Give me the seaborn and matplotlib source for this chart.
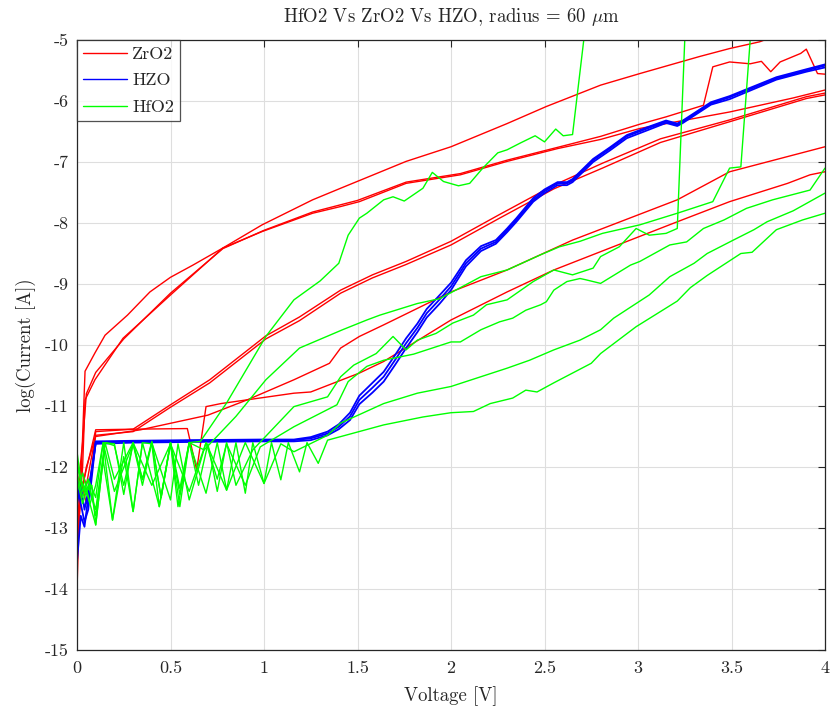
import numpy as np
import pandas as pd
import matplotlib
matplotlib.use("Agg")
import matplotlib.pyplot as plt
import seaborn as sns

# ---------------- data ----------------
# ZrO2 sweeps
zr_a_v = [0, 0.01, 0.03, 0.043, 0.096, 0.15, 0.27, 0.39, 0.50, 0.62, 0.78, 0.99, 1.26, 1.41, 1.76, 2.0, 2.3, 2.51, 2.80, 3.01, 3.33, 3.49, 3.65, 3.72, 4.0]
zr_a_l = [-14.0, -13.0, -11.5, -10.43, -10.13, -9.84, -9.51, -9.13, -8.89, -8.69, -8.41, -8.03, -7.62, -7.43, -6.99, -6.75, -6.37, -6.09, -5.74, -5.55, -5.27, -5.14, -5.03, -4.95, -4.7]
zr_b_v = [0, 0.01, 0.03, 0.043, 0.096, 0.246, 0.50, 0.78, 0.99, 1.26, 1.41, 1.51, 1.76, 2.05, 2.30, 2.57, 2.80, 3.01, 3.49, 3.83, 4.0]
zr_b_l = [-13.3, -12.8, -12.0, -10.9, -10.57, -9.89, -9.18, -8.41, -8.14, -7.84, -7.73, -7.65, -7.35, -7.21, -6.99, -6.78, -6.63, -6.45, -6.18, -5.95, -5.82]
zr_c_v = [0, 0.01, 0.03, 0.05, 0.1, 0.25, 0.5, 0.78, 1.0, 1.26, 1.5, 1.76, 2.05, 2.30, 2.57, 2.80, 3.01, 3.15, 3.35, 3.40, 3.49, 3.60, 3.66, 3.71, 3.76, 3.87, 3.90, 3.96, 4.0]
zr_c_l = [-12.9, -12.2, -11.6, -10.8, -10.45, -9.9, -9.15, -8.42, -8.12, -7.82, -7.63, -7.33, -7.19, -6.97, -6.76, -6.58, -6.38, -6.26, -6.07, -5.44, -5.36, -5.39, -5.35, -5.52, -5.36, -5.22, -5.15, -5.55, -5.56]
zr_d_v = [0, 0.02, 0.05, 0.08, 0.1, 0.3, 0.5, 0.71, 1.01, 1.19, 1.41, 1.58, 1.76, 2.0, 2.26, 2.55, 2.81, 3.12, 3.49, 3.90, 4.0]
zr_d_l = [-13.0, -12.2, -12.6, -12.0, -11.42, -11.38, -10.98, -10.57, -9.85, -9.54, -9.10, -8.85, -8.63, -8.30, -7.86, -7.38, -7.02, -6.62, -6.31, -5.93, -5.87]
zr_e_v = [0, 0.02, 0.05, 0.08, 0.1, 0.3, 0.5, 0.71, 1.01, 1.19, 1.41, 1.58, 1.76, 2.0, 2.26, 2.55, 2.81, 3.12, 3.49, 3.90, 4.0]
zr_e_l = [-12.6, -12.0, -12.3, -11.8, -11.48, -11.42, -11.02, -10.62, -9.9, -9.6, -9.15, -8.9, -8.68, -8.36, -7.92, -7.44, -7.10, -6.68, -6.34, -5.96, -5.90]
zr_f_v = [0, 0.02, 0.05, 0.1, 0.34, 0.7, 0.91, 1.16, 1.35, 1.41, 1.51, 1.64, 2.0, 2.30, 2.65, 3.21, 3.49, 4.0]
zr_f_l = [-13.3, -12.5, -12.0, -11.5, -11.39, -11.15, -10.9, -10.57, -10.3, -10.05, -9.86, -9.67, -9.13, -8.77, -8.28, -7.62, -7.16, -6.75]
zr_g_v = [0, 0.03, 0.1, 0.3, 0.59, 0.64, 0.69, 0.77, 1.16, 1.25, 1.51, 1.64, 2.0, 2.30, 2.55, 2.80, 3.21, 3.49, 3.80, 3.92, 4.0]
zr_g_l = [-13.0, -12.3, -11.39, -11.38, -11.37, -12.05, -11.01, -10.96, -10.79, -10.77, -10.46, -10.27, -9.59, -9.13, -8.77, -8.47, -7.98, -7.65, -7.35, -7.21, -7.16]

# HZO sweeps
hzo_v = [0, 0.02, 0.04, 0.06, 0.1, 0.3, 0.6, 0.98, 1.16, 1.25, 1.34, 1.40, 1.46, 1.51, 1.58, 1.64, 1.70, 1.76, 1.82, 1.87, 1.94, 2.0, 2.08, 2.16, 2.24, 2.30, 2.35, 2.44, 2.50, 2.57, 2.62, 2.65, 2.76, 2.85, 2.94, 3.05, 3.15, 3.21, 3.24, 3.39, 3.49, 3.74, 3.90, 4.0]
hzo_1_l = [-13.55, -12.8, -12.98, -12.5, -11.6, -11.58, -11.57, -11.56, -11.56, -11.53, -11.45, -11.34, -11.17, -10.90, -10.70, -10.52, -10.25, -9.97, -9.72, -9.48, -9.25, -9.04, -8.66, -8.42, -8.31, -8.12, -7.95, -7.62, -7.48, -7.35, -7.35, -7.30, -6.97, -6.78, -6.58, -6.45, -6.34, -6.39, -6.34, -6.04, -5.94, -5.63, -5.50, -5.42]
hzo_2_l = [-12.2, -12.6, -12.9, -12.7, -11.58, -11.57, -11.56, -11.55, -11.55, -11.51, -11.42, -11.30, -11.11, -10.83, -10.62, -10.44, -10.17, -9.89, -9.65, -9.41, -9.18, -8.98, -8.61, -8.38, -8.28, -8.09, -7.92, -7.59, -7.45, -7.33, -7.33, -7.28, -6.95, -6.76, -6.56, -6.43, -6.32, -6.37, -6.32, -6.02, -5.92, -5.61, -5.48, -5.40]
hzo_3_l = [-12.6, -12.3, -12.7, -12.4, -11.62, -11.60, -11.59, -11.58, -11.58, -11.56, -11.48, -11.38, -11.23, -10.97, -10.78, -10.60, -10.33, -10.05, -9.79, -9.55, -9.32, -9.10, -8.71, -8.46, -8.34, -8.15, -7.98, -7.65, -7.51, -7.38, -7.38, -7.33, -7.00, -6.81, -6.61, -6.48, -6.36, -6.41, -6.36, -6.06, -5.97, -5.65, -5.52, -5.45]

# HfO2 sweeps
hf_a_v = [0, 0.03, 0.06, 0.1, 0.14, 0.19, 0.25, 0.3, 0.35, 0.4, 0.44, 0.5, 0.55, 0.6, 0.68, 0.85, 1.01, 1.19, 1.42, 1.55, 1.62, 1.82, 1.94, 2.16, 2.30, 2.48, 2.58, 2.69, 2.81, 3.01, 3.21, 3.40, 3.49, 3.55, 3.60, 4.0]
hf_a_l = [-12.0, -12.3, -12.5, -12.95, -11.89, -12.87, -11.83, -12.73, -11.6, -11.62, -12.65, -11.6, -12.45, -11.6, -11.72, -11.17, -10.57, -10.05, -9.75, -9.59, -9.51, -9.32, -9.24, -8.88, -8.77, -8.52, -8.39, -8.30, -8.17, -8.03, -7.84, -7.65, -7.10, -7.08, -5.0, -5.0]
hf_b_v = [0, 0.03, 0.06, 0.1, 0.15, 0.2, 0.25, 0.3, 0.35, 0.4, 0.45, 0.5, 0.55, 0.6, 0.65, 0.7, 0.75, 0.8, 0.85, 0.94, 1.16, 1.34, 1.41, 1.48, 1.60, 1.69, 1.76, 1.82, 1.92, 2.01, 2.12, 2.19, 2.30, 2.44, 2.55, 2.65, 2.76, 2.80, 2.90, 2.99, 3.06, 3.15, 3.21, 3.25, 4.0]
hf_b_l = [-12.2, -12.6, -12.3, -12.7, -11.6, -11.65, -12.3, -11.62, -12.21, -11.6, -12.5, -11.62, -12.65, -11.6, -12.3, -11.62, -12.4, -11.6, -12.3, -11.72, -11.01, -10.85, -10.52, -10.33, -10.14, -9.86, -10.08, -9.92, -9.81, -9.64, -9.51, -9.34, -9.26, -8.96, -8.77, -8.85, -8.74, -8.55, -8.39, -8.09, -8.20, -8.17, -8.09, -5.0, -5.0]
hf_c_v = [0, 0.02, 0.05, 0.08, 0.1, 0.15, 0.2, 0.25, 0.3, 0.35, 0.4, 0.45, 0.5, 0.55, 0.6, 0.66, 0.8, 1.01, 1.16, 1.30, 1.40, 1.45, 1.51, 1.55, 1.64, 1.69, 1.75, 1.85, 1.90, 1.96, 2.04, 2.10, 2.17, 2.25, 2.30, 2.37, 2.45, 2.50, 2.56, 2.60, 2.65, 2.71, 4.0]
hf_c_l = [-11.75, -12.2, -12.4, -12.3, -12.95, -11.6, -11.62, -12.45, -11.6, -12.2, -11.58, -12.5, -11.6, -12.35, -11.6, -11.58, -10.95, -9.86, -9.26, -8.95, -8.66, -8.20, -7.92, -7.84, -7.62, -7.57, -7.64, -7.43, -7.17, -7.32, -7.39, -7.35, -7.10, -6.85, -6.80, -6.69, -6.57, -6.67, -6.46, -6.57, -6.55, -5.0, -5.0]
hf_d_v = [0, 0.03, 0.07, 0.1, 0.14, 0.2, 0.3, 0.35, 0.4, 0.5, 0.54, 0.6, 0.69, 0.75, 0.8, 0.9, 0.98, 1.16, 1.39, 1.45, 1.55, 1.64, 1.80, 2.0, 2.05, 2.16, 2.26, 2.33, 2.40, 2.48, 2.51, 2.55, 2.62, 2.69, 2.72, 2.80, 2.96, 3.01, 3.17, 3.26, 3.35, 3.46, 3.58, 3.72, 3.92, 4.0]
hf_d_l = [-12.4, -12.1, -12.6, -12.3, -11.6, -12.4, -11.62, -12.3, -11.6, -12.54, -11.62, -12.54, -11.6, -12.2, -11.62, -12.3, -11.67, -11.34, -10.98, -10.6, -10.35, -10.25, -10.15, -9.95, -9.95, -9.75, -9.62, -9.56, -9.43, -9.34, -9.29, -9.10, -8.96, -8.91, -8.93, -8.99, -8.69, -8.63, -8.36, -8.31, -8.09, -7.95, -7.76, -7.62, -7.46, -7.10]
hf_e_v = [0, 0.03, 0.06, 0.1, 0.15, 0.2, 0.3, 0.4, 0.5, 0.6, 0.69, 0.8, 0.9, 1.0, 1.09, 1.16, 1.34, 1.41, 1.64, 1.82, 2.0, 2.16, 2.30, 2.42, 2.55, 2.69, 2.80, 2.87, 2.99, 3.06, 3.17, 3.30, 3.37, 3.51, 3.62, 3.69, 3.83, 4.0]
hf_e_l = [-12.1, -12.5, -12.2, -12.8, -11.6, -12.2, -11.6, -12.3, -11.62, -12.4, -11.6, -12.38, -11.6, -12.27, -11.62, -11.75, -11.48, -11.28, -10.96, -10.79, -10.68, -10.52, -10.38, -10.25, -10.08, -9.92, -9.75, -9.56, -9.32, -9.18, -8.88, -8.66, -8.50, -8.28, -8.11, -7.98, -7.80, -7.51]
hf_f_v = [0, 0.03, 0.06, 0.1, 0.14, 0.19, 0.25, 0.30, 0.35, 0.44, 0.5, 0.54, 0.6, 0.69, 0.75, 0.80, 0.85, 0.90, 0.94, 1.0, 1.04, 1.09, 1.13, 1.19, 1.23, 1.29, 1.34, 1.64, 1.85, 2.0, 2.12, 2.21, 2.33, 2.40, 2.46, 2.55, 2.65, 2.75, 2.80, 2.99, 3.21, 3.28, 3.37, 3.55, 3.61, 3.74, 3.88, 4.0]
hf_f_l = [-11.9, -12.4, -12.2, -12.5, -11.6, -12.87, -11.6, -12.73, -11.6, -12.65, -11.6, -12.65, -11.6, -12.43, -11.6, -12.38, -11.6, -12.43, -11.6, -12.27, -11.6, -12.21, -11.6, -12.08, -11.6, -11.94, -11.56, -11.31, -11.18, -11.11, -11.09, -10.96, -10.87, -10.74, -10.77, -10.62, -10.46, -10.30, -10.14, -9.70, -9.28, -9.06, -8.86, -8.50, -8.48, -8.11, -7.95, -7.84]

x_ticks = [0, 0.5, 1, 1.5, 2, 2.5, 3, 3.5, 4]
x_tick_labels = ["0", "0.5", "1", "1.5", "2", "2.5", "3", "3.5", "4"]
y_ticks = [-15, -14, -13, -12, -11, -10, -9, -8, -7, -6, -5]
y_tick_labels = ["-15", "-14", "-13", "-12", "-11", "-10", "-9", "-8", "-7", "-6", "-5"]

# ---------------- build long table ----------------
sweeps = [
    ("ZrO2", "zr_a", zr_a_v, zr_a_l), ("ZrO2", "zr_b", zr_b_v, zr_b_l),
    ("ZrO2", "zr_c", zr_c_v, zr_c_l), ("ZrO2", "zr_d", zr_d_v, zr_d_l),
    ("ZrO2", "zr_e", zr_e_v, zr_e_l), ("ZrO2", "zr_f", zr_f_v, zr_f_l),
    ("ZrO2", "zr_g", zr_g_v, zr_g_l),
    ("HZO", "hzo_1", hzo_v, hzo_1_l), ("HZO", "hzo_2", hzo_v, hzo_2_l),
    ("HZO", "hzo_3", hzo_v, hzo_3_l),
    ("HfO2", "hf_a", hf_a_v, hf_a_l), ("HfO2", "hf_b", hf_b_v, hf_b_l),
    ("HfO2", "hf_c", hf_c_v, hf_c_l), ("HfO2", "hf_d", hf_d_v, hf_d_l),
    ("HfO2", "hf_e", hf_e_v, hf_e_l), ("HfO2", "hf_f", hf_f_v, hf_f_l),
]
rows = []
for mat, sid, vv, ll in sweeps:
    for i, (v, l) in enumerate(zip(vv, ll)):
        rows.append({"Voltage": v, "logI": l, "material": mat, "sweep": sid, "order": i})
df = pd.DataFrame(rows)

# ---------------- style ----------------
sns.set_style("white")
plt.rcParams["font.family"] = ["serif"]
plt.rcParams["font.serif"] = ["cmr10", "DejaVu Serif"]
plt.rcParams["mathtext.fontset"] = "cm"
plt.rcParams["axes.unicode_minus"] = False

fig = plt.figure(figsize=(8.31, 7.08), dpi=100)
ax = fig.add_axes([77 / 831, 58 / 708, 748 / 831, 610 / 708])

palette = {"ZrO2": "#ff0000", "HZO": "#0000ff", "HfO2": "#00ff00"}
sns.lineplot(data=df[df.material == "ZrO2"], x="Voltage", y="logI", hue="material",
             units="sweep", estimator=None, sort=False, palette=palette,
             linewidth=1.0, ax=ax)
sns.lineplot(data=df[df.material == "HZO"], x="Voltage", y="logI", hue="material",
             units="sweep", estimator=None, sort=False, palette=palette,
             linewidth=1.3, ax=ax)
sns.lineplot(data=df[df.material == "HfO2"], x="Voltage", y="logI", hue="material",
             units="sweep", estimator=None, sort=False, palette=palette,
             linewidth=1.0, ax=ax)

ax.set_xlim(0, 4)
ax.set_ylim(-15, -5)
ax.set_xticks(x_ticks)
ax.set_xticklabels(x_tick_labels)
ax.set_yticks(y_ticks)
ax.set_yticklabels(y_tick_labels)
ax.grid(True, color="#dedede", linewidth=0.8)
ax.set_axisbelow(True)
for s in ax.spines.values():
    s.set_color("#262626")
    s.set_linewidth(0.9)
ax.tick_params(direction="in", top=True, right=True, length=5, width=0.8,
               colors="#262626", labelsize=13)
ax.tick_params(axis="x", pad=8)
ax.tick_params(axis="y", pad=6)

ax.set_xlabel("Voltage [V]", fontsize=13.5, labelpad=7)
ax.set_ylabel("log(Current [A])", fontsize=13.5, labelpad=6)
ax.set_title(r"HfO2 Vs ZrO2 Vs HZO, radius = 60 $\mu$m", fontsize=13.5, pad=13)

handles, labels = ax.get_legend_handles_labels()
leg = ax.legend(handles, labels, loc="upper left", fontsize=13, frameon=True,
                fancybox=False, edgecolor="#262626", borderaxespad=0,
                handlelength=2.4, handletextpad=0.3, borderpad=0.35,
                labelspacing=0.6)
leg.get_frame().set_linewidth(0.9)
for line in leg.get_lines():
    line.set_linewidth(1.0)

fig.savefig("out.png", dpi=100)
